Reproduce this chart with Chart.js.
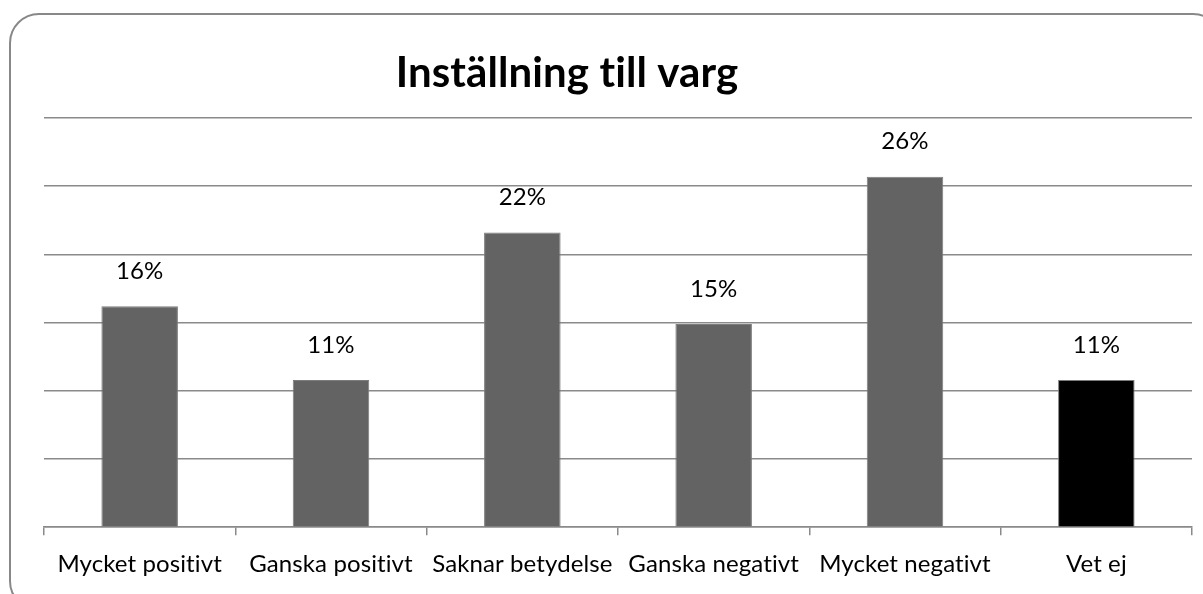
<!DOCTYPE html>
<html>
<head>
    <meta charset="utf-8">
    <title>Inställning till varg</title>
    <script src="https://cdn.jsdelivr.net/npm/chart.js"></script>
    <style>
        body {
            margin: 0;
            background-color: white;
            overflow: hidden;
        }
        .frame {
            position: absolute;
            left: 9px;
            top: 13px;
            width: 1210px;
            height: 594px;
            border: 2px solid #888;
            border-radius: 30px;
            pointer-events: none;
        }
        .chart-container {
            position: absolute;
            left: 0;
            top: 0;
            width: 1203px;
            height: 594px;
        }
    </style>
</head>
<body>
    <div class="chart-container">
        <canvas id="vargChart"></canvas>
    </div>
    <div class="frame"></div>

    <script>
        const categories = ['Mycket positivt', 'Ganska positivt', 'Saknar betydelse', 'Ganska negativt', 'Mycket negativt', 'Vet ej'];
        const shares = [16.2, 10.8, 21.6, 14.9, 25.7, 10.8];
        const barColors = ['#636363', '#636363', '#636363', '#636363', '#636363', '#000000'];
        const chartTitle = 'Inställning till varg';

        const FONT = 'Lato, "Open Sans", sans-serif';

        // liten bokstavsavstånd stänger av ligaturer (ti) i Lato
        const noLigatures = {
            id: 'noLigatures',
            beforeDraw(chart) {
                chart.ctx.letterSpacing = '0.1px';
            }
        };

        // titel och dataetiketter ritas för hand
        const labelsPlugin = {
            id: 'labels',
            afterDatasetsDraw(chart) {
                const ctx = chart.ctx;
                ctx.save();
                ctx.fillStyle = '#000';
                ctx.textAlign = 'center';
                ctx.textBaseline = 'middle';
                ctx.font = '24px ' + FONT;
                chart.getDatasetMeta(0).data.forEach((bar, i) => {
                    ctx.fillText(Math.round(shares[i]) + '%', bar.x, bar.y - 35);
                });
                ctx.font = 'bold 42px ' + FONT;
                ctx.fillText(chartTitle, 567, 73);
                ctx.restore();
            }
        };

        const ctx = document.getElementById('vargChart').getContext('2d');
        new Chart(ctx, {
            type: 'bar',
            data: {
                labels: categories,
                datasets: [{
                    data: shares,
                    backgroundColor: barColors,
                    borderColor: '#7c7c7c',
                    borderWidth: 1,
                    categoryPercentage: 1.0,
                    barPercentage: 0.4
                }]
            },
            options: {
                responsive: true,
                maintainAspectRatio: false,
                animation: false,
                layout: {
                    padding: { left: 44, right: 11, top: 118, bottom: 0 }
                },
                scales: {
                    y: {
                        min: 0,
                        max: 30,
                        ticks: { display: false, stepSize: 5 },
                        border: { display: false },
                        grid: { color: '#8a8a8a', lineWidth: 1.5, drawTicks: false }
                    },
                    x: {
                        border: { display: true, color: '#8a8a8a', width: 1.5 },
                        grid: { offset: true, drawOnChartArea: false, color: '#8a8a8a', lineWidth: 1.5, tickLength: 8 },
                        ticks: {
                            color: '#000',
                            padding: 15,
                            maxRotation: 0,
                            autoSkip: false,
                            font: { family: FONT, size: 24 }
                        }
                    }
                },
                plugins: {
                    legend: { display: false },
                    tooltip: { enabled: false }
                }
            },
            plugins: [noLigatures, labelsPlugin]
        });
    </script>
</body>
</html>
